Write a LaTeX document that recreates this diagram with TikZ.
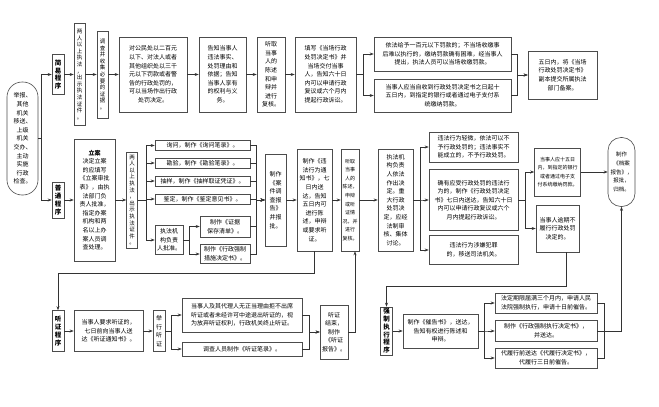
\documentclass[tikz,border=0pt]{standalone}
\usepackage{fontspec}
\setmainfont{Noto Sans CJK SC}
\usetikzlibrary{arrows.meta}

\begin{document}
\begin{tikzpicture}[x=1pt,y=-1pt,>={Stealth[length=4pt,width=3pt]},line width=0.6pt,draw=black!80,
  main box/.style={draw=black!70,align=center,inner sep=0.5pt,font=\fontsize{6}{8.6}\selectfont},
  small box/.style={main box,font=\fontsize{5}{8.6}\selectfont},
  col box/.style={main box,font=\fontsize{5.5}{6.6}\selectfont},
  step box/.style={main box,font=\bfseries\fontsize{6.5}{7.8}\selectfont},
  end box/.style={main box,rounded corners=13pt}]
  \useasboundingbox (0,0) rectangle (659,407);

  \node[end box,rounded corners=15pt,minimum width=31pt,minimum height=113pt] (start) at (22.5,138.5) {举报、\\其他\\机关\\移送、\\上级\\机关\\交办、\\主动\\实施\\行政\\检查。};

  \node[step box,minimum width=12pt,minimum height=40pt] (jianyi) at (58,74.5) {简\\易\\程\\序};
  \node[col box,minimum width=11pt,minimum height=102pt] (liangren1) at (79.5,74.5) {两\\人\\以\\上\\执\\法\\，\\出\\示\\执\\法\\证\\件\\。};
  \node[col box,minimum width=11pt,minimum height=87pt] (diaocha) at (102.5,74.5) {调\\查\\并\\收\\集\\必\\要\\的\\证\\据\\。};
  \node[main box,minimum width=68pt,minimum height=75pt] (dangchang) at (153,74.5) {对公民处以二百元\\以下、对法人或者\\其他组织处以三千\\元以下罚款或者警\\告的行政处罚的，\\可以当场作出行政\\处罚决定。};
  \node[main box,minimum width=47pt,minimum height=75pt] (gaozhi) at (222.5,74.5) {告知当事人\\违法事实、\\处罚理由和\\依据；告知\\当事人享有\\的权利与义\\务。};
  \node[main box,minimum width=28pt,minimum height=75pt] (tingqu1) at (271,74.5) {听取\\当事\\人的\\陈述\\和申\\辩并\\进行\\复核。};
  \node[main box,minimum width=61pt,minimum height=75pt] (tianxie) at (325.5,74.5) {填写《当场行政\\处罚决定书》并\\当场交付当事\\人，告知六十日\\内可以申请行政\\复议或六个月内\\提起行政诉讼。};
  \node[main box,minimum width=137pt,minimum height=34pt] (shoujiao) at (442.5,54) {依法给予一百元以下罚款的；不当场收缴事\\后难以执行的，缴纳罚款确有困难，经当事人\\提出，执法人员可以当场收缴罚款。};
  \node[main box,minimum width=137pt,minimum height=33pt] (jiaona1) at (442.5,95.5) {当事人应当自收到行政处罚决定书之日起十\\五日内，到指定的银行或者通过电子支付系\\统缴纳罚款。};
  \node[main box,minimum width=69pt,minimum height=48pt] (beian) at (562.5,75) {五日内，将《当场\\行政处罚决定书》\\副本提交所属执法\\部门备案。};

  \node[step box,minimum width=12pt,minimum height=36pt] (putong) at (58,200) {普\\通\\程\\序};
  \node[main box,minimum width=41pt,minimum height=122pt] (lian) at (94.5,200) {\textbf{立案}\\决定立案\\的应填写\\《立案审批\\表》，由执\\法部门负\\责人批准，\\指定办案\\机构和两\\名以上办\\案人员调\\查处理。};
  \node[col box,minimum width=11pt,minimum height=96pt] (liangren2) at (132,200) {两\\人\\以\\上\\执\\法\\，\\出\\示\\执\\法\\证\\件\\。};
  \node[main box,minimum width=95pt,minimum height=10pt] (xunwen) at (202.5,145.5) {询问，制作《询问笔录》。};
  \node[main box,minimum width=95pt,minimum height=10pt] (kanyan) at (202.5,163) {勘验，制作《勘验笔录》。};
  \node[main box,minimum width=95pt,minimum height=10pt] (chouyang) at (202.5,181) {抽样，制作《抽样取证凭证》。};
  \node[main box,minimum width=95pt,minimum height=10pt] (jianding) at (202.5,199) {鉴定，制作《鉴定意见书》。};
  \node[main box,minimum width=28pt,minimum height=29pt] (pizhun) at (169,240) {执法机\\构负责\\人批准。};
  \node[main box,minimum width=50pt,minimum height=21pt] (baocun) at (225,226.5) {制作《证据\\保存清单》。};
  \node[main box,minimum width=50pt,minimum height=19pt] (cuoshi) at (225,254) {制作《行政强制\\措施决定书》。};
  \node[main box,minimum width=21pt,minimum height=92pt] (baogao) at (275.5,200) {制作\\《案\\件调\\查报\\告》\\并报\\批。};
  \node[main box,minimum width=35pt,minimum height=102pt] (tongzhi) at (314.5,200) {制作《违\\法行为通\\知书》，七\\日内送\\达，告知\\五日内可\\进行陈\\述，申辩\\或要求听\\证。};
  \node[small box,minimum width=18pt,minimum height=102pt] (tingqu2) at (350,200) {听取\\当事\\人的\\陈述，\\申辩\\或听\\证情\\况，并\\进行\\复核。};
  \node[main box,minimum width=35pt,minimum height=102pt] (jueding) at (395.5,200) {执法机\\构负责\\人依法\\作出决\\定。重\\大行政\\处罚决\\定，应经\\法制审\\核、集体\\讨论。};
  \node[main box,minimum width=89pt,minimum height=30pt] (buyu) at (473.5,147) {违法行为轻微，依法可以不\\予行政处罚的；违法事实不\\能成立的，不予行政处罚。};
  \node[main box,minimum width=89pt,minimum height=61pt] (queyou) at (473.5,200) {确有应受行政处罚的违法行\\为的，制作《行政处罚决定\\书》七日内送达，告知六十日\\内可以申请行政复议或六个\\月内提起行政诉讼。};
  \node[main box,minimum width=89pt,minimum height=29pt] (yisong) at (473.5,250) {违法行为涉嫌犯罪\\的，移送司法机关。};
  \node[small box,minimum width=46pt,minimum height=48pt] (jiaona2) at (557.5,172) {当事人应十五日\\内，到指定的银行\\或者通过电子支\\付系统缴纳罚款。};
  \node[main box,minimum width=43pt,minimum height=47pt] (yuqi) at (557.5,228.5) {当事人逾期不\\履行行政处罚\\决定的。};
  \node[end box,font=\fontsize{5.5}{8.6}\selectfont,minimum width=27pt,minimum height=69pt] (guidang) at (621.5,172) {制作\\《档案\\报告》，\\报批，\\归档。};

  \node[step box,minimum width=12pt,minimum height=41pt] (tingzheng) at (58,331) {听\\证\\程\\序};
  \node[main box,minimum width=69pt,minimum height=41pt] (tongzhishu) at (108.5,331) {当事人要求听证的，\\七日前向当事人送\\达《听证通知书》。};
  \node[main box,minimum width=12pt,minimum height=41pt] (juxing) at (159,331) {举\\行\\听\\证};
  \node[main box,minimum width=120pt,minimum height=34pt] (fangqi) at (242,315) {当事人及其代理人无正当理由拒不出席\\听证或者未经许可中途退出听证的，视\\为放弃听证权利，行政机关终止听证。};
  \node[main box,minimum width=120pt,minimum height=14pt] (bilu) at (242,349) {调查人员制作《听证笔录》。};
  \node[main box,minimum width=28pt,minimum height=54pt] (tzbaogao) at (334,332) {听证\\结束，\\制作\\《听证\\报告》。};

  \node[step box,minimum width=12pt,minimum height=48pt] (zhixing) at (386.5,331) {强\\制\\执\\行\\程\\序};
  \node[main box,minimum width=75pt,minimum height=34pt] (cuigao) at (440.5,331) {制作《催告书》，送达，\\告知有权进行陈述和\\申辩。};
  \node[main box,minimum width=102pt,minimum height=20pt] (fayuan) at (546,303) {法定期限届满三个月内，申请人民\\法院强制执行，申请十日前催告。};
  \node[main box,minimum width=102pt,minimum height=21pt] (zxjueding) at (546,331) {制作《行政强制执行决定书》，\\并送达。};
  \node[main box,minimum width=102pt,minimum height=20pt] (dailv) at (546,358) {代履行前送达《代履行决定书》，\\代履行三日前催告。};

  \draw[->] (start.east) -- ++(3,0) |- (jianyi.west);
  \draw[->] (start.east) -- ++(3,0) |- (putong.west);
  \draw[->] (jianyi) -- (liangren1);
  \draw[->] (liangren1) -- (diaocha);
  \draw[->] (diaocha) -- (dangchang);
  \draw[->] (dangchang) -- (gaozhi);
  \draw[->] (gaozhi) -- (tingqu1);
  \draw[->] (tingqu1) -- (tianxie);
  \foreach \n in {shoujiao,jiaona1} \draw[->] (tianxie.east) -- ++(7,0) |- (\n.west);
  \foreach \n in {shoujiao,jiaona1} \draw[->] (\n.east) -- ++(6,0) |- (beian.west);

  \draw[->] (putong) -- (lian);
  \draw[->] (lian) -- (liangren2);
  \foreach \n in {xunwen,kanyan,chouyang,jianding,pizhun} \draw[->] (liangren2.east) -- ++(8,0) |- (\n.west);
  \foreach \n in {baocun,cuoshi} \draw[->] (pizhun.east) -- ++(6,0) |- (\n.west);
  \foreach \n in {xunwen,kanyan,chouyang,jianding,baocun,cuoshi} \draw[->] (\n.east) -- ++(6,0) |- (baogao.west);
  \draw[->] (baogao) -- (tongzhi);
  \draw[->] (tongzhi) -- (tingqu2);
  \draw[->] (tingqu2) -- (jueding);
  \foreach \n in {buyu,queyou,yisong} \draw[->] (jueding.east) -- ++(7,0) |- (\n.west);
  \foreach \n in {jiaona2,yuqi} \draw[->] (queyou.east) -- ++(7,0) |- (\n.west);
  \draw[->] (jiaona2) -- (guidang);

  \draw[->] (tongzhi.south) -- ++(0,22) -| (tingzheng.north);
  \draw[->] (tingzheng) -- (tongzhishu);
  \draw[->] (tongzhishu) -- (juxing);
  \foreach \n in {fangqi,bilu} \draw[->] (juxing.east) -- ++(6,0) |- (\n.west);
  \foreach \n in {fangqi,bilu} \draw[->] (\n.east) -- ++(7,0) |- (tzbaogao.west);
  \draw[->] (tzbaogao.east) -| ([xshift=5pt]tingqu2.south);

  \draw[->] ([xshift=9pt]yuqi.south) -- ++(0,34) -| (zhixing.north);
  \draw[->] (zhixing) -- (cuigao);
  \foreach \n in {fayuan,zxjueding,dailv} \draw[->] (cuigao.east) -- ++(6,0) |- (\n.west);
  \foreach \n in {fayuan,dailv} \draw (\n.east) -- ++(7,0) |- (zxjueding.east);
  \draw[->] (zxjueding.east) -| (guidang.south);
\end{tikzpicture}
\end{document}
